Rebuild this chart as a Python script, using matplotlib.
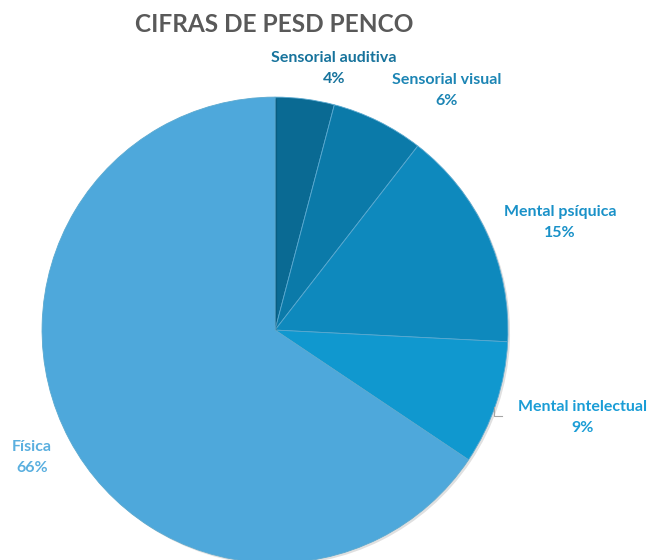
import matplotlib.pyplot as plt
import matplotlib.patheffects as pe

# data (shares in %; labels show rounded values)
categories = ['Sensorial auditiva', 'Sensorial visual', 'Mental psíquica',
              'Mental intelectual', 'Física']
shares = [4.1, 6.4, 15.3, 8.6, 65.6]

slice_colors = ['#0a6a93', '#0b7aa9', '#0e89bd', '#1098cf', '#4ea8db']
label_colors = ['#17739c', '#1c85b4', '#1991c8', '#1a9dd6', '#5aafdf']
# label anchor points (data coords, pie radius = 1)
label_pos = [(0.253, 1.122), (0.738, 1.028), (1.223, 0.461),
             (1.322, -0.376), (-1.043, -0.547)]

plt.rcParams['font.family'] = ['Lato', 'DejaVu Sans']

fig = plt.figure(figsize=(6.5, 5.6), dpi=100)
ax = fig.add_axes([0.0646, -0.0054, 0.717, 0.832])

wedges, _ = ax.pie(shares, colors=slice_colors, startangle=90,
                   counterclock=False, radius=1.0,
                   wedgeprops=dict(edgecolor='#5aa9d0', linewidth=0.6))
for w in wedges:
    w.set_path_effects([pe.SimplePatchShadow(offset=(1.5, -1.5), alpha=0.12,
                                             shadow_rgbFace='black'),
                        pe.Normal()])

for name, v, (x, y), c in zip(categories, shares, label_pos, label_colors):
    ax.text(x, y, f'{name}\n{v:.0f}%', ha='center', va='center', color=c,
            fontsize=11.5, fontweight='bold', linespacing=1.6)

# small leader line for Mental intelectual
ax.plot([0.94, 0.94, 0.975], [-0.33, -0.367, -0.367], color='#a6a6a6', lw=0.8,
        clip_on=False)

ax.set_xlim(-1, 1)
ax.set_ylim(-1, 1)
ax.set_aspect('equal')
ax.axis('off')

fig.text(274 / 650, 1 - 25 / 560, 'CIFRAS DE PESD PENCO', ha='center', va='center',
         fontsize=17.6, fontweight='bold', color='#595959')

fig.savefig('out.png', dpi=100)
